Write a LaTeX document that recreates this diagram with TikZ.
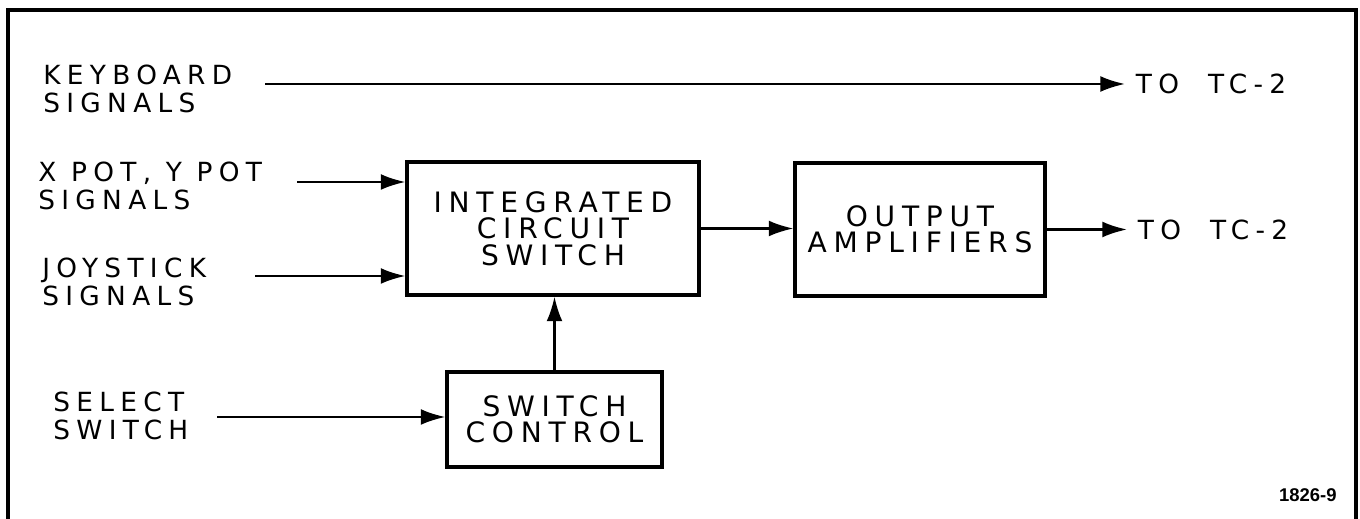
\documentclass[tikz,border=0pt]{standalone}
\usepackage{fontspec}
\setsansfont{Liberation Sans}
\newfontfamily\lettering[LetterSpace=24]{DejaVu Sans}
\usetikzlibrary{arrows.meta}

\begin{document}
\begin{tikzpicture}[x=0.02cm,y=-0.02cm,
	every node/.style={font=\lettering\fontsize{15}{16}\selectfont},
	label/.style={anchor=west,align=left,inner sep=0pt},
	block/.style={draw,line width=1.8pt,align=center,minimum height=2.66cm,
		font=\lettering\fontsize{16}{15}\selectfont},
	sig/.style={->,line width=1.3pt},
	>={Latex[length=14pt,width=9pt]}]
	\useasboundingbox (0,0) rectangle (1360,519);
	% frame
	\draw[line width=2.2pt] (8,519) -- (8,10) -- (1356,10) -- (1356,519);
	% input labels
	\node[label] (kb) at (43,89) {KEYBOARD\\SIGNALS};
	\node[label] (xy) at (38,186) {X POT, Y POT\\SIGNALS};
	\node[label] (js) at (42,282) {JOYSTICK\\SIGNALS};
	\node[label] (sel) at (53,416) {SELECT\\SWITCH};
	\coordinate (kbs) at (265,84);
	\coordinate (xys) at (297,182);
	\coordinate (jss) at (255,276);
	\coordinate (sels) at (217,417);
	% blocks
	\node[block,minimum width=5.84cm] (ics) at (553,228.5) {INTEGRATED\\CIRCUIT\\SWITCH};
	\node[block,minimum width=5.0cm] (oa) at (920,229.5) {OUTPUT\\AMPLIFIERS};
	\node[block,minimum width=4.3cm,minimum height=1.9cm] (sc) at (554.5,419.5) {SWITCH\\CONTROL};
	% outputs
	\node[anchor=west,inner sep=6pt] (to1) at (1125,84) {TO\hspace{1.1em}TC-2};
	\node[anchor=west,inner sep=6pt] (to2) at (1127,229.5) {TO\hspace{1.1em}TC-2};
	\node[font=\sffamily\bfseries\fontsize{10.5}{12}\selectfont,anchor=east,inner sep=0pt] (fig) at (1337,495) {1826-9};
	% connectors
	\draw[sig] (kbs) -- (to1.west);
	\foreach \from in {xys,jss}
	\draw[sig] (\from) -- (\from -| ics.west);
	\draw[sig] (sels) -- (sels -| sc.west);
	\draw[sig] (ics.east) -- (ics.east -| oa.west);
	\draw[sig] (oa.east) -- (to2.west);
	\draw[sig] (sc.north) -- (sc.north |- ics.south);
\end{tikzpicture}
\end{document}
